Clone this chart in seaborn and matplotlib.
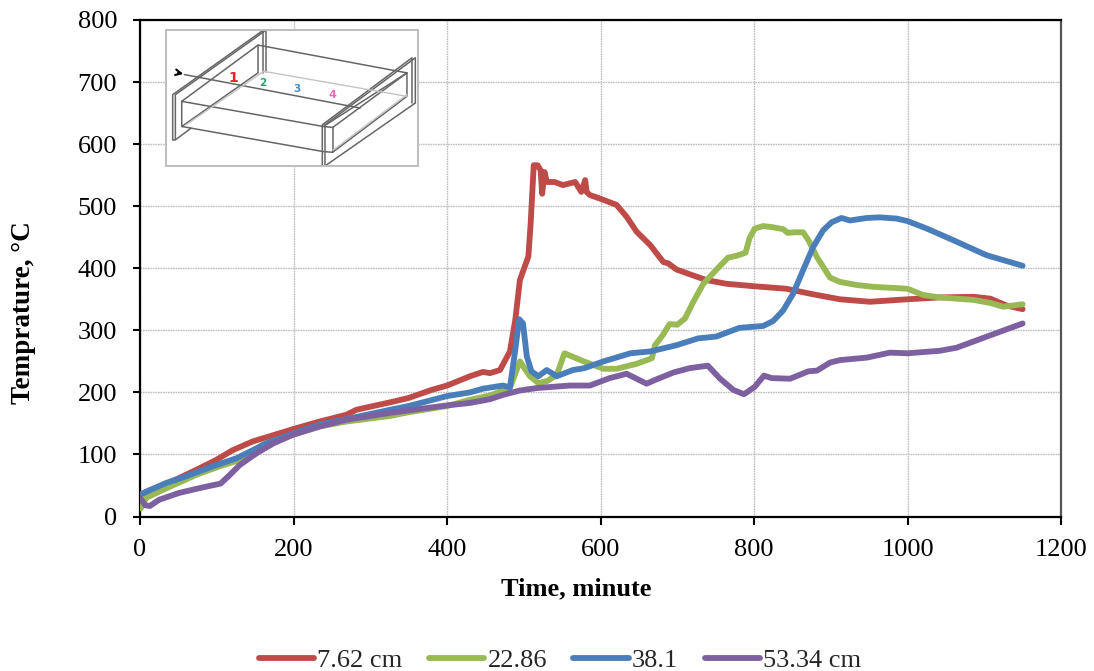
import matplotlib
matplotlib.use('Agg')
import matplotlib.pyplot as plt
import seaborn as sns
import pandas as pd

# series
t_762 = [0, 12, 34, 51, 73, 99, 121, 147, 200, 234, 269, 282, 326, 350, 380, 400, 430, 447, 456, 469, 482, 489, 495, 506, 509, 513, 518, 522, 524, 527, 530, 540, 551, 567, 575, 580, 582, 586, 600, 621, 634, 647, 665, 673, 682, 688, 699, 717, 738, 764, 800, 842, 877, 912, 951, 1000, 1042, 1086, 1108, 1129, 1150]
v_762 = [35, 42, 52, 62, 75, 91, 107, 121, 141, 153, 164, 172, 184, 191, 204, 211, 226, 233, 231, 236, 266, 317, 381, 419, 472, 566, 566, 558, 520, 555, 539, 539, 534, 539, 523, 542, 523, 518, 512, 502, 483, 459, 437, 424, 410, 408, 398, 390, 381, 375, 371, 367, 358, 350, 346, 350, 353, 354, 351, 340, 334]
t_2286 = [1, 8, 30, 73, 104, 130, 160, 200, 234, 269, 326, 350, 400, 430, 456, 482, 495, 508, 519, 530, 543, 553, 578, 604, 621, 647, 667, 671, 681, 690, 700, 710, 721, 734, 752, 766, 777, 789, 794, 801, 812, 825, 838, 844, 853, 864, 871, 882, 899, 912, 934, 956, 986, 1000, 1020, 1042, 1086, 1108, 1125, 1150]
v_2286 = [13, 30, 43, 67, 81, 91, 116, 132, 145, 153, 162, 168, 178, 188, 195, 207, 250, 226, 215, 218, 228, 263, 250, 238, 238, 246, 255, 276, 292, 310, 309, 319, 346, 375, 399, 417, 420, 425, 448, 464, 468, 466, 463, 457, 458, 458, 445, 418, 385, 378, 373, 370, 368, 367, 357, 353, 349, 344, 338, 342]
t_381 = [0, 12, 34, 56, 95, 126, 165, 200, 234, 269, 326, 350, 400, 430, 447, 473, 482, 489, 494, 499, 504, 510, 519, 530, 543, 564, 579, 604, 639, 665, 699, 727, 751, 781, 812, 825, 838, 851, 864, 877, 890, 901, 914, 925, 947, 964, 986, 1000, 1025, 1060, 1103, 1150]
v_381 = [35, 42, 54, 63, 81, 94, 118, 134, 148, 157, 172, 178, 194, 200, 206, 211, 208, 269, 318, 311, 258, 234, 226, 236, 226, 236, 239, 250, 263, 266, 276, 287, 290, 304, 307, 315, 332, 359, 397, 434, 461, 474, 481, 477, 481, 482, 480, 476, 464, 445, 421, 404]
t_5334 = [0, 7, 13, 25, 51, 82, 105, 117, 130, 152, 174, 200, 234, 269, 326, 350, 400, 430, 456, 473, 495, 517, 560, 586, 612, 634, 660, 673, 695, 716, 740, 755, 773, 787, 801, 813, 823, 847, 871, 882, 899, 912, 947, 977, 1000, 1042, 1064, 1108, 1150]
v_5334 = [30, 18, 17, 27, 38, 47, 53, 67, 83, 102, 118, 132, 145, 156, 167, 171, 179, 183, 189, 196, 203, 207, 211, 211, 223, 230, 214, 221, 232, 239, 243, 223, 204, 197, 209, 227, 223, 222, 234, 235, 248, 252, 256, 264, 263, 267, 272, 292, 311]

labels = ['7.62 cm', '22.86', '38.1', '53.34 cm']
colors = ['#BE4B48', '#98B954', '#4A7EBB', '#7D60A0']
x_ticks = [0, 200, 400, 600, 800, 1000, 1200]
y_ticks = [0, 100, 200, 300, 400, 500, 600, 700, 800]

# inset sketch, in its own pixel grid
sketch_lines = [
    [(70, 375), (70, 240), (340, 48)], [(78, 375), (78, 240), (348, 48)],
    [(70, 375), (78, 375), (125, 340)], [(340, 48), (340, 175)], [(348, 48), (348, 172)],
    [(97, 335), (97, 260), (325, 92), (770, 175), (520, 335), (97, 260)],
    [(97, 335), (520, 410), (548, 412), (770, 245), (770, 175)],
    [(325, 92), (325, 175), (97, 335)], [(548, 338), (548, 412)], [(520, 335), (548, 338), (770, 175)],
    [(517, 453), (517, 330), (785, 130), (785, 265)], [(525, 453), (525, 330), (795, 130), (795, 265)],
    [(525, 453), (795, 265)], [(105, 180), (630, 280)],
]
sketch_faint = [[(340, 170), (770, 245)], [(110, 330), (340, 172)], [(550, 405), (770, 240)]]
sketch_marks = [('1', 252, 190, '#E8212B', 10), ('2', 340, 206, '#2E9E6B', 7.5), ('3', 442, 222, '#3E8FC4', 7.5), ('4', 546, 242, '#E070B8', 8)]

frames = []
for name, t, v in zip(labels, [t_762, t_2286, t_381, t_5334], [v_762, v_2286, v_381, v_5334]):
    frames.append(pd.DataFrame({'time': t, 'temp': v, 'depth': name}))
df = pd.concat(frames)

sns.set_style('white')
plt.rcParams['font.family'] = ['Liberation Serif', 'DejaVu Serif']

W, H = 1094, 671
fig = plt.figure(figsize=(W / 100, H / 100), dpi=100)
ax = fig.add_axes([140 / W, 1 - 516.5 / H, 921 / W, 496.5 / H])

sns.lineplot(data=df, x='time', y='temp', hue='depth', palette=colors, hue_order=labels,
             estimator=None, sort=False, linewidth=4.2, ax=ax, zorder=3,
             solid_joinstyle='round', solid_capstyle='round')

ax.set_xlim(0, 1200)
ax.set_ylim(0, 800)
ax.set_xticks(x_ticks)
ax.set_yticks(y_ticks)
ax.tick_params(axis='both', labelsize=19, width=1.5, length=5.4, color='black', labelcolor='black', bottom=True, left=True)
ax.tick_params(axis='y', pad=11)
ax.tick_params(axis='x', pad=10.5)
ax.grid(True, color='#BEBEBE', linestyle=(0, (1.2, 0.6)), linewidth=1)
ax.set_axisbelow(True)
for s in ax.spines.values():
    s.set_color('black')
    s.set_linewidth(1.6)
ax.spines['right'].set_color('#555555')
ax.set_xlabel('Time, minute', fontsize=19, fontweight='bold', color='black', va='center')
ax.set_ylabel('Temprature, °C', fontsize=19.5, fontweight='bold', color='black', va='center')
ax.xaxis.set_label_coords(436 / 921, -72.5 / 496.5)
ax.yaxis.set_label_coords(-116 / 921, 203.5 / 496.5)

handles, leg_labels = ax.get_legend_handles_labels()
ax.legend(handles, leg_labels, loc='center', bbox_to_anchor=(420 / 921, -144 / 496.5), ncol=4, frameon=False,
          fontsize=19, handlelength=2.1, handletextpad=0.12, columnspacing=1.0, borderpad=0)

# inset
ins = fig.add_axes([166 / W, 1 - 166 / H, 252 / W, 136 / H])
ins.set_xlim(50, 803)
ins.set_ylim(453, 47)
ins.set_xticks([])
ins.set_yticks([])
ins.set_facecolor('white')
for s in ins.spines.values():
    s.set_color('#BDBDBD')
    s.set_linewidth(1.4)
for seg in sketch_lines:
    ins.plot([p[0] for p in seg], [p[1] for p in seg], color='#666666', lw=1.1, solid_capstyle='round')
for seg in sketch_faint:
    ins.plot([p[0] for p in seg], [p[1] for p in seg], color='#C4C4C4', lw=1)
for txt, x, y, c, fs in sketch_marks:
    ins.text(x, y, txt, color=c, fontsize=fs, fontweight='bold', ha='center', va='center', family=['DejaVu Sans'])
ins.annotate('', xy=(110, 180), xytext=(78, 173), arrowprops=dict(arrowstyle='->', color='black', lw=1.5))

fig.savefig('out.png', dpi=100)
